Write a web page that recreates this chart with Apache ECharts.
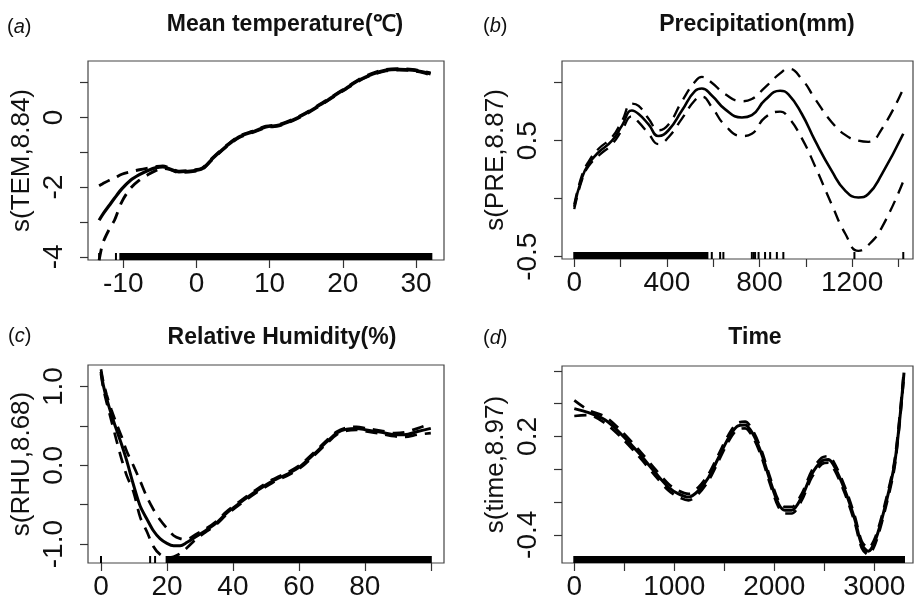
<!DOCTYPE html>
<html><head><meta charset="utf-8">
<script src="https://cdn.jsdelivr.net/npm/echarts@6/dist/echarts.min.js"></script>
<style>html,body{margin:0;padding:0;background:#fff}#chart{width:915px;height:601px}</style>
</head><body><div id="chart"></div>
<script>
// ---------- (a) Mean temperature ----------
const tempX = [-13.3, -12.8, -11.9, -11.2, -10.2, -9.0, -7.8, -6.6, -5.5, -4.6, -3.7, -2.4, -0.5, 0.8, 2.2, 4.0, 5.8, 7.7, 9.5, 11.3, 13.1, 14.9, 16.8, 18.6, 20.4, 22.2, 24.1, 25.9, 27.7, 29.5, 30.9, 32.0];
const tempFit = [-2.95, -2.78, -2.52, -2.32, -2.05, -1.80, -1.64, -1.52, -1.44, -1.42, -1.47, -1.56, -1.53, -1.47, -1.18, -0.84, -0.56, -0.41, -0.27, -0.22, -0.08, 0.11, 0.35, 0.59, 0.83, 1.07, 1.25, 1.36, 1.38, 1.36, 1.31, 1.25];
const tempUpper = [-1.96, -1.90, -1.80, -1.74, -1.63, -1.56, -1.50, -1.45, -1.41, -1.39, -1.45, -1.54, -1.51, -1.45, -1.16, -0.82, -0.54, -0.39, -0.25, -0.20, -0.06, 0.13, 0.37, 0.61, 0.85, 1.09, 1.27, 1.38, 1.40, 1.38, 1.33, 1.28];
const tempLower = [-4.10, -3.61, -3.20, -2.95, -2.42, -2.03, -1.80, -1.64, -1.52, -1.46, -1.49, -1.58, -1.55, -1.49, -1.20, -0.86, -0.58, -0.43, -0.29, -0.24, -0.10, 0.09, 0.33, 0.57, 0.81, 1.05, 1.23, 1.34, 1.36, 1.34, 1.29, 1.22];
const tempRugTicks = [-13.3, -11.0];
const tempRugBands = [[-10.4, 32.1]];
const tempXTicks = [-10, 0, 10, 20, 30];
const tempXLabels = [-10, 0, 10, 20, 30];
const tempYTicks = [-4, -3, -2, -1, 0, 1];
const tempYLabels = [-4, -2, 0];

// ---------- (b) Precipitation ----------
const preX = [0, 33, 62, 105, 163, 206, 249, 278, 321, 364, 407, 465, 522, 551, 594, 652, 724, 767, 824, 889, 925, 983, 1040, 1112, 1170, 1227, 1270, 1328, 1421];
const preFit = [-0.07, 0.18, 0.30, 0.40, 0.50, 0.63, 0.76, 0.73, 0.64, 0.54, 0.59, 0.76, 0.93, 0.95, 0.89, 0.77, 0.70, 0.72, 0.85, 0.93, 0.90, 0.73, 0.50, 0.24, 0.07, 0.01, 0.04, 0.21, 0.56];
const preUpper = [-0.05, 0.20, 0.32, 0.43, 0.53, 0.67, 0.82, 0.80, 0.69, 0.59, 0.64, 0.84, 1.01, 1.05, 1.00, 0.90, 0.84, 0.86, 0.96, 1.08, 1.12, 1.03, 0.86, 0.66, 0.55, 0.50, 0.49, 0.60, 0.95];
const preLower = [-0.09, 0.16, 0.28, 0.37, 0.47, 0.59, 0.71, 0.66, 0.56, 0.47, 0.53, 0.69, 0.85, 0.88, 0.79, 0.63, 0.54, 0.56, 0.70, 0.75, 0.70, 0.52, 0.28, -0.05, -0.30, -0.45, -0.40, -0.25, 0.15];
const preRugTicks = [594, 630, 644, 767, 775, 781, 796, 824, 846, 875, 903, 1210, 1421];
const preRugBands = [[0, 575]];
const preXTicks = [0, 200, 400, 600, 800, 1000, 1200, 1400];
const preXLabels = [0, 400, 800, 1200];
const preYTicks = [-0.5, 0, 0.5, 1.0];
const preYLabels = [-0.5, 0.5];

// ---------- (c) Relative humidity ----------
const rhuX = [0, 0.7, 1.7, 3.2, 4.8, 6.3, 7.8, 9.8, 11.9, 13.9, 15.9, 17.9, 20, 22, 24, 26, 29, 32, 35, 38, 42, 47, 52, 57, 60.5, 64.5, 68.5, 71.5, 74.5, 77.5, 80.5, 85, 89, 92, 96, 100];
const rhuFit = [1.19, 1.02, 0.85, 0.64, 0.44, 0.26, 0.06, -0.24, -0.52, -0.68, -0.83, -0.93, -0.99, -1.02, -1.02, -0.98, -0.90, -0.82, -0.73, -0.61, -0.48, -0.33, -0.20, -0.10, -0.01, 0.14, 0.30, 0.41, 0.46, 0.47, 0.45, 0.42, 0.39, 0.39, 0.43, 0.47];
const rhuUpper = [1.22, 1.06, 0.90, 0.70, 0.52, 0.36, 0.18, 0.00, -0.20, -0.40, -0.56, -0.69, -0.80, -0.89, -0.93, -0.94, -0.87, -0.80, -0.71, -0.59, -0.46, -0.31, -0.18, -0.08, 0.01, 0.16, 0.32, 0.43, 0.48, 0.49, 0.47, 0.44, 0.41, 0.42, 0.47, 0.53];
const rhuLower = [1.16, 0.98, 0.80, 0.56, 0.30, 0.07, -0.13, -0.33, -0.66, -0.84, -1.03, -1.13, -1.17, -1.16, -1.12, -1.05, -0.93, -0.84, -0.75, -0.63, -0.50, -0.35, -0.22, -0.12, -0.03, 0.12, 0.28, 0.39, 0.44, 0.45, 0.43, 0.40, 0.37, 0.36, 0.39, 0.41];
const rhuRugTicks = [0, 14.9, 16.4];
const rhuRugBands = [[19.9, 100]];
const rhuXTicks = [0, 20, 40, 60, 80, 100];
const rhuXLabels = [0, 20, 40, 60, 80];
const rhuYTicks = [-1.0, -0.5, 0, 0.5, 1.0];
const rhuYLabels = [-1.0, 0.0, 1.0];

// ---------- (d) Time ----------
const timeX = [0, 143, 310, 476, 643, 809, 942, 1042, 1142, 1242, 1342, 1442, 1542, 1625, 1708, 1791, 1875, 1958, 2041, 2108, 2174, 2274, 2374, 2474, 2541, 2607, 2707, 2807, 2874, 2940, 3007, 3107, 3207, 3297];
const timeFit = [0.37, 0.345, 0.30, 0.21, 0.10, -0.02, -0.11, -0.15, -0.17, -0.13, -0.05, 0.07, 0.19, 0.26, 0.27, 0.21, 0.09, -0.07, -0.21, -0.25, -0.25, -0.17, -0.03, 0.05, 0.06, 0.01, -0.13, -0.31, -0.46, -0.50, -0.44, -0.23, 0.05, 0.59];
const timeUpper = [0.42, 0.36, 0.32, 0.23, 0.12, 0.00, -0.09, -0.13, -0.15, -0.11, -0.03, 0.09, 0.21, 0.28, 0.29, 0.23, 0.11, -0.05, -0.19, -0.23, -0.23, -0.15, -0.01, 0.07, 0.08, 0.03, -0.11, -0.29, -0.44, -0.48, -0.42, -0.21, 0.07, 0.61];
const timeLower = [0.325, 0.33, 0.28, 0.19, 0.08, -0.04, -0.13, -0.17, -0.19, -0.15, -0.07, 0.05, 0.17, 0.24, 0.25, 0.19, 0.07, -0.09, -0.23, -0.27, -0.27, -0.19, -0.05, 0.03, 0.04, -0.01, -0.15, -0.33, -0.48, -0.52, -0.46, -0.25, 0.03, 0.57];
const timeRugTicks = [];
const timeRugBands = [[0, 3297]];
const timeXTicks = [0, 500, 1000, 1500, 2000, 2500, 3000];
const timeXLabels = [0, 1000, 2000, 3000];
const timeYTicks = [-0.4, -0.2, 0, 0.2, 0.4, 0.6];
const timeYLabels = [-0.4, 0.2];

// ---------- layout ----------
const FONT = '"Liberation Sans", Arial, sans-serif';
const panels = [
  {grid:{left:88, top:61, width:356, height:199}, xr:[-14.82, 33.83], yr:[-4.09, 1.62],
   x:tempX, fit:tempFit, up:tempUpper, lo:tempLower, rt:tempRugTicks, rb:tempRugBands,
   xt:tempXTicks, xl:tempXLabels, yt:tempYTicks, yl:tempYLabels, yName:'s(TEM,8.84)', smooth:0.3, w:3.2, dec:false,
   title:'Mean temperature(℃)', tx:285, ty:25, tag:'a', lx:7, ly:27},
  {grid:{left:562, top:61, width:351, height:198}, xr:[-53, 1463], yr:[-0.52, 1.187],
   x:preX, fit:preFit, up:preUpper, lo:preLower, rt:preRugTicks, rb:preRugBands,
   xt:preXTicks, xl:preXLabels, yt:preYTicks, yl:preYLabels, yName:'s(PRE,8.87)', smooth:0.5, w:2.6, dec:true,
   title:'Precipitation(mm)', tx:757, ty:25, tag:'b', lx:483, ly:26},
  {grid:{left:88, top:365, width:356, height:198}, xr:[-3.94, 104.0], yr:[-1.24, 1.275],
   x:rhuX, fit:rhuFit, up:rhuUpper, lo:rhuLower, rt:rhuRugTicks, rb:rhuRugBands,
   xt:rhuXTicks, xl:rhuXLabels, yt:rhuYTicks, yl:rhuYLabels, yName:'s(RHU,8.68)', smooth:0.3, w:3, dec:true,
   title:'Relative Humidity(%)', tx:282, ty:338, tag:'c', lx:8, ly:336},
  {grid:{left:562, top:366, width:351, height:197}, xr:[-123, 3387], yr:[-0.572, 0.63],
   x:timeX, fit:timeFit, up:timeUpper, lo:timeLower, rt:timeRugTicks, rb:timeRugBands,
   xt:timeXTicks, xl:timeXLabels, yt:timeYTicks, yl:timeYLabels, yName:'s(time,8.97)', smooth:0.3, w:3, dec:true,
   title:'Time', tx:755, ty:338, tag:'d', lx:483, ly:338}
];

const zip = (xs, ys) => xs.map((v, i) => [v, ys[i]]);
const grid = [], xAxis = [], yAxis = [], series = [], graphic = [];
const fmt1 = v => (Math.abs(v) < 1e-9 ? '0.0' : v.toFixed(1));

panels.forEach((p, i) => {
  grid.push(Object.assign({show:true, borderColor:'#444', borderWidth:1.2, backgroundColor:'transparent', outerBoundsMode:'none', containLabel:false}, p.grid));
  xAxis.push({
    gridIndex:i, type:'value', min:p.xr[0], max:p.xr[1],
    axisLine:{show:false, onZero:false}, splitLine:{show:false},
    axisTick:{show:true, inside:false, length:8, customValues:p.xt, lineStyle:{color:'#333', width:1.2}},
    axisLabel:{customValues:p.xl, fontSize:28, color:'#111', fontFamily:FONT, margin:10, formatter: v => String(v)}
  });
  yAxis.push({
    gridIndex:i, type:'value', min:p.yr[0], max:p.yr[1],
    axisLine:{show:false, onZero:false}, splitLine:{show:false},
    axisTick:{show:true, inside:false, length:8, customValues:p.yt, lineStyle:{color:'#333', width:1.2}},
    axisLabel:{customValues:p.yl, rotate:90, fontSize:28, color:'#111', fontFamily:FONT, margin:20,
      formatter: v => p.dec ? fmt1(v) : String(v)},
    name:p.yName, nameLocation:'middle', nameGap:53,
    nameTextStyle:{fontSize:26, color:'#111', fontFamily:FONT}
  });
  const base = {type:'line', xAxisIndex:i, yAxisIndex:i, showSymbol:false, symbol:'none', smooth:p.smooth, silent:true, animation:false, clip:true};
  series.push(Object.assign({}, base, {data:zip(p.x, p.up), lineStyle:{color:'#000', width:p.w*0.9, type:[12, 8]}, z:2}));
  series.push(Object.assign({}, base, {data:zip(p.x, p.lo), lineStyle:{color:'#000', width:p.w*0.9, type:[12, 8]}, z:2}));
  series.push(Object.assign({}, base, {data:zip(p.x, p.fit), lineStyle:{color:'#000', width:p.w}, z:3}));
  const rugData = p.rt.map(v => [v, v, p.yr[0]]).concat(p.rb.map(b => [b[0], b[1], p.yr[0]]));
  series.push({
    type:'custom', xAxisIndex:i, yAxisIndex:i, silent:true, animation:false,
    encode:{x:[0, 1], y:2}, data:rugData, z:4,
    renderItem:(params, api) => {
      const a = api.coord([api.value(0), api.value(2)]);
      const b = api.coord([api.value(1), api.value(2)]);
      const cs = params.coordSys;
      const bottom = cs.y + cs.height;
      const w = Math.max(b[0] - a[0], 0) + 2;
      return {type:'rect', shape:{x:a[0] - 1, y:bottom - 7, width:w, height:7}, style:{fill:'#000'}};
    }
  });
  graphic.push({type:'text', x:p.tx, y:p.ty, silent:true,
    style:{text:p.title, fontSize:23, fontWeight:'bold', fontFamily:FONT, fill:'#111', align:'center', verticalAlign:'middle'}});
  graphic.push({type:'text', x:p.lx, y:p.ly, silent:true,
    style:{text:'({it|' + p.tag + '})', fontSize:20, fontFamily:FONT, fill:'#111', align:'left', verticalAlign:'middle',
      rich:{it:{fontStyle:'italic', fontSize:20, fontFamily:FONT, fill:'#111'}}}});
});

const chart = echarts.init(document.getElementById('chart'), null, {renderer:'canvas'});
chart.setOption({animation:false, backgroundColor:'#fff', grid, xAxis, yAxis, series, graphic});
</script></body></html>
